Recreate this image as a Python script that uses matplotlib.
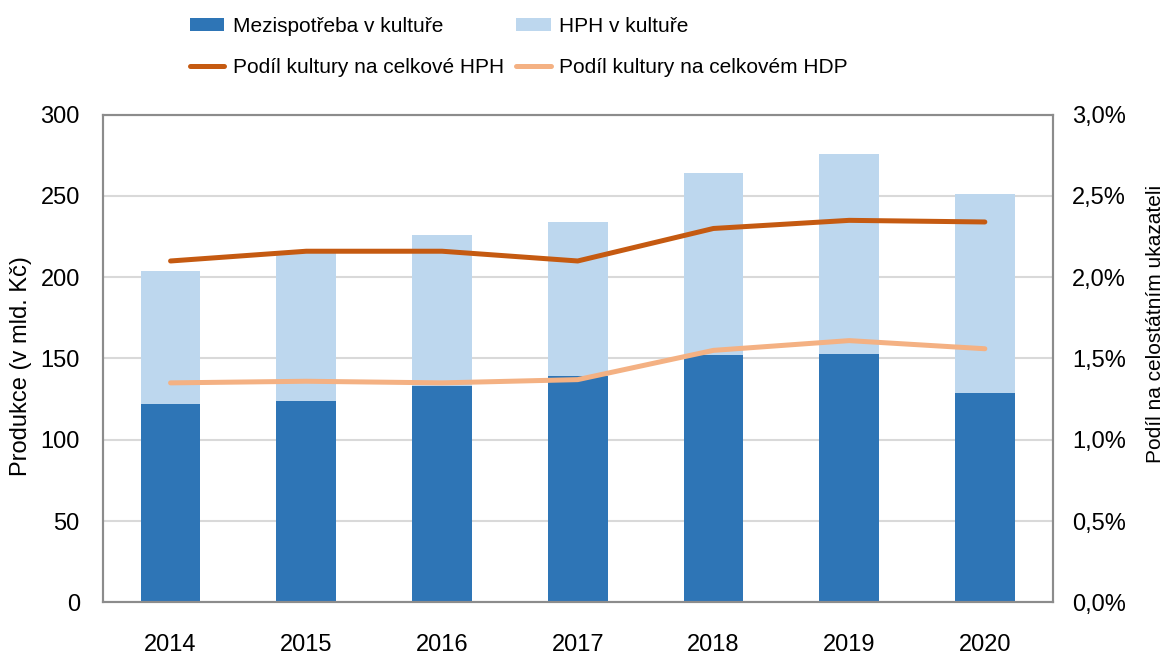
import numpy as np
import matplotlib.pyplot as plt
from matplotlib.ticker import FuncFormatter

plt.rcParams['font.family'] = ['Liberation Sans', 'DejaVu Sans']

# data
roky = ['2014', '2015', '2016', '2017', '2018', '2019', '2020']
mezispotreba = [122, 124, 133, 139, 152, 153, 129]
hph = [82, 91, 93, 95, 112, 123, 122]
podil_hph = [2.10, 2.16, 2.16, 2.10, 2.30, 2.35, 2.34]
podil_hdp = [1.35, 1.36, 1.35, 1.37, 1.55, 1.61, 1.56]

c_dark = '#2E75B6'
c_light = '#BDD7EE'
c_hph = '#C55A11'
c_hdp = '#F4B183'

fig = plt.figure(figsize=(11.69, 6.59), dpi=100)
ax = fig.add_axes([102.7 / 1169, 1 - 602.3 / 659, 950 / 1169, 487.6 / 659])
x = np.arange(len(roky))

b1 = ax.bar(x, mezispotreba, width=0.44, color=c_dark, zorder=2)
b2 = ax.bar(x, hph, bottom=mezispotreba, width=0.44, color=c_light, zorder=2)
ax.set_xlim(-0.5, len(roky) - 0.5)
ax.set_ylim(0, 300)
ax.set_yticks(range(0, 301, 50))
ax.set_xticks(x)
ax.set_xticklabels(roky)
ax.grid(axis='y', color='#D9D9D9', linewidth=1.5, zorder=0)
ax.set_axisbelow(True)
ax.tick_params(axis='y', length=0, labelsize=17, pad=16.5)
ax.tick_params(axis='x', length=0, labelsize=17, pad=23)
ax.set_ylabel('Produkce (v mld. Kč)', fontsize=17)
ax.yaxis.set_label_coords(-0.074, 0.485)

ax2 = ax.twinx()
l1, = ax2.plot(x, podil_hph, color=c_hph, linewidth=3.6, solid_capstyle='round', zorder=3)
l2, = ax2.plot(x, podil_hdp, color=c_hdp, linewidth=3.6, solid_capstyle='round', zorder=3)
ax2.set_ylim(0, 3)
ax2.set_yticks(np.arange(0, 3.01, 0.5))
ax2.yaxis.set_major_formatter(FuncFormatter(lambda v, p: f'{v:.1f}%'.replace('.', ',')))
ax2.tick_params(length=0, labelsize=17, pad=14)
ax2.set_ylabel('Podíl na celostátním ukazateli', fontsize=15)
ax2.yaxis.set_label_coords(1.098, 0.57)

for a in (ax, ax2):
    for s in a.spines.values():
        s.set_color('#8C8C8C')
        s.set_linewidth(1.5)

fig.legend([b1, l1, b2, l2],
           ['Mezispotřeba v kultuře', 'Podíl kultury na celkové HPH',
            'HPH v kultuře', 'Podíl kultury na celkovém HDP'],
           ncol=2, loc='upper left', bbox_to_anchor=(190 / 1169, 1 - 17 / 659),
           frameon=False, fontsize=15,
           handlelength=1.65, handleheight=0.6, borderpad=0, borderaxespad=0,
           columnspacing=0.6, labelspacing=1.05, handletextpad=0.4)

fig.savefig('out.png', dpi=100)
